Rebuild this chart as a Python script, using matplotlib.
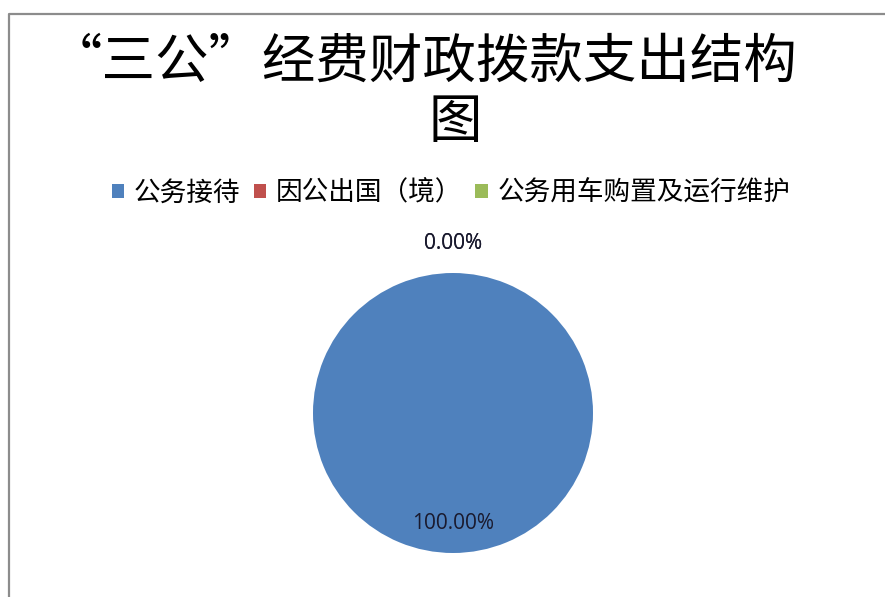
import matplotlib
matplotlib.use('Agg')
import matplotlib.pyplot as plt
from matplotlib.lines import Line2D
import numpy as np

plt.rcParams['font.family'] = ['Noto Sans CJK SC', 'DejaVu Sans']

# data
categories = ['公务接待', '因公出国（境）', '公务用车购置及运行维护']
values = [100.0, 0.0, 0.0]
colors = ['#4F81BD', '#C0504D', '#9BBB59']
title_lines = ['“三公”经费财政拨款支出结构', '图']

fig = plt.figure(figsize=(8.85, 5.97), dpi=100)
W, H = 885, 597

# frame line (left + top edge of the chart area)
fig.add_artist(Line2D([9 / W, 9 / W, 1.0], [0.0, 1 - 14 / H, 1 - 14 / H],
                      transform=fig.transFigure, color='#8c8c8c', linewidth=1.6))

# title, two lines
fig.text(423 / W, 1 - 62 / H, title_lines[0], ha='center', va='center',
         fontsize=38.5, color='black')
fig.text(455 / W, 1 - 122 / H, title_lines[1], ha='center', va='center',
         fontsize=38.5, color='black')

# pie
cx, cy, r = 453, 413, 140
ax = fig.add_axes([(cx - r) / W, (H - cy - r) / H, 2 * r / W, 2 * r / H])
wedges, texts, autotexts = ax.pie(values, colors=colors, startangle=90,
                                  counterclock=False, autopct='%.2f%%',
                                  pctdistance=0.79,
                                  textprops={'fontsize': 15, 'color': '#1a1a2e',
                                             'family': ['Open Sans', 'DejaVu Sans']},
                                  wedgeprops={'linewidth': 0})
ax.set_aspect('equal')
ax.set_xlim(-1, 1)
ax.set_ylim(-1, 1)

# zero-size slices: label outside the pie at their angle
for w, t, v in zip(wedges, autotexts, values):
    if v == 0:
        ang = np.deg2rad((w.theta1 + w.theta2) / 2)
        t.set_position((1.21 * np.cos(ang), 1.21 * np.sin(ang)))

# legend
fig.legend(wedges, categories, loc='center', bbox_to_anchor=(451 / W, 1 - 193 / H),
           ncol=3, frameon=False, fontsize=19.2, handlelength=0.48,
           handleheight=0.48, handletextpad=0.35, columnspacing=0.5,
           borderaxespad=0)

fig.savefig('out.png', dpi=100)
